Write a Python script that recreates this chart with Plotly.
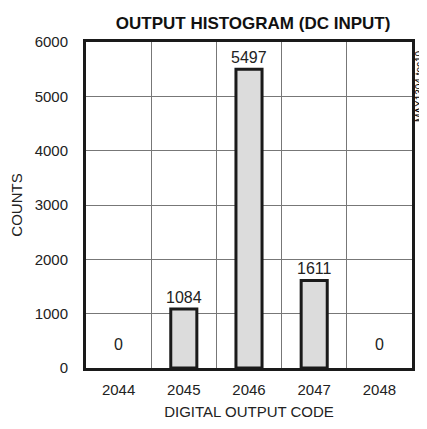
import plotly.graph_objects as go

codes = [2044, 2045, 2046, 2047, 2048]
counts = [0, 1084, 5497, 1611, 0]
y_ticks = [0, 1000, 2000, 3000, 4000, 5000, 6000]

FONT = "Liberation Sans, Arial, sans-serif"

fig = go.Figure()
fig.add_trace(go.Bar(
    x=codes, y=counts, width=0.4,
    marker=dict(color="#dcdcdc",
                line=dict(color="#1a1a1a", width=[0 if v == 0 else 3 for v in counts])),
    showlegend=False,
))

for c, v in zip(codes, counts):
    fig.add_annotation(x=c, y=v, text=str(v), showarrow=False,
                       yanchor="bottom", yshift=13 if v == 0 else 1,
                       font=dict(size=16, color="#222", family=FONT))

fig.add_annotation(x=1.0, y=1.0, xref="paper", yref="paper", text="MAX1304 toc10",
                   textangle=-90, showarrow=False, xanchor="center", yanchor="middle",
                   xshift=7, yshift=-44, font=dict(size=10, color="#000", family=FONT))

fig.update_layout(
    width=419, height=421,
    margin=dict(l=78, r=15, t=34, b=61, autoexpand=False),
    paper_bgcolor="white", plot_bgcolor="white",
    title=dict(text="<b>OUTPUT HISTOGRAM (DC INPUT)</b>", x=0.585, xanchor="center",
               y=0.965, yanchor="middle",
               font=dict(size=17, color="#111", family=FONT)),
    font=dict(family=FONT, size=15, color="#222"),
)
fig.update_xaxes(
    range=[2043.5, 2048.5], tickvals=codes, ticktext=[str(c) for c in codes],
    showgrid=False, showline=True, linecolor="#1a1a1a", linewidth=3, mirror=True,
    ticks="", automargin=False, ticklabelstandoff=6,
    minor=dict(tick0=2043.5, dtick=1, showgrid=True, gridcolor="#777", gridwidth=1),
    title=dict(text="DIGITAL OUTPUT CODE", standoff=10, font=dict(size=15)),
    zeroline=False,
)
fig.update_yaxes(
    range=[0, 6000], tickvals=y_ticks,
    showgrid=True, gridcolor="#777", gridwidth=1,
    showline=True, linecolor="#1a1a1a", linewidth=3, mirror=True,
    ticks="", zeroline=False, automargin=False, ticklabelstandoff=12,
    title=dict(text="COUNTS", standoff=16, font=dict(size=15)),
)

fig.write_html("out.html")
